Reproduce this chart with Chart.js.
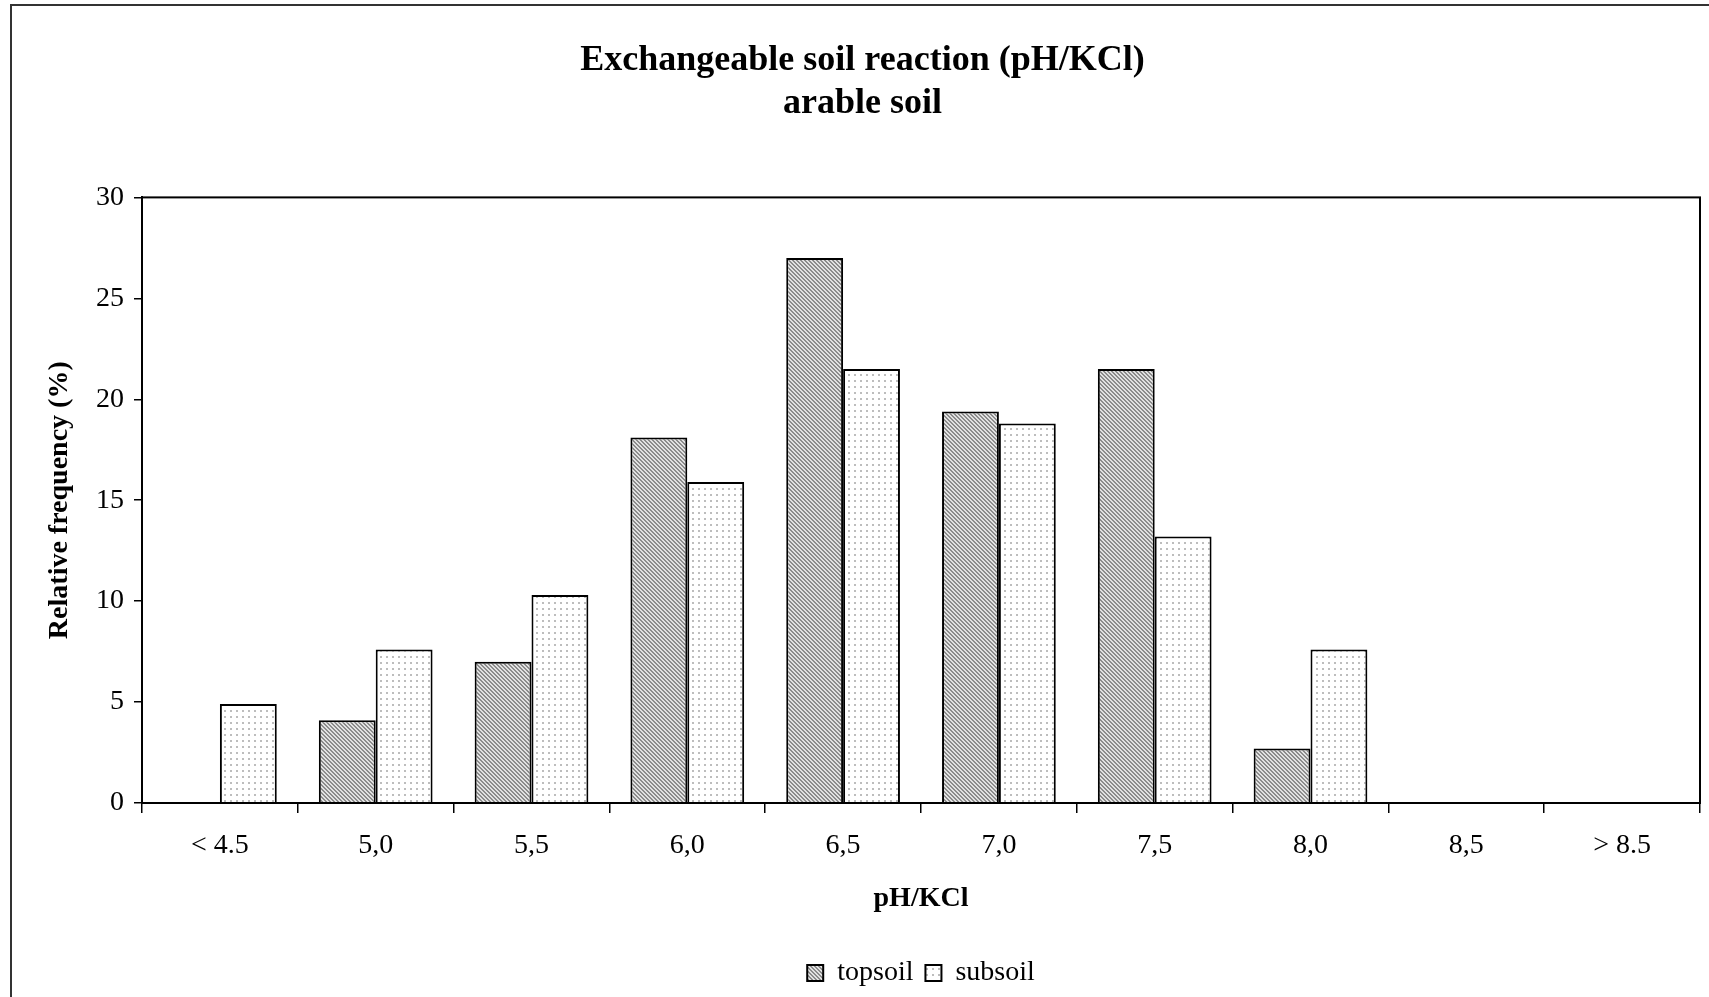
<!DOCTYPE html>
<html>
<head>
<meta charset="utf-8">
<script src="https://cdn.jsdelivr.net/npm/chart.js@4"></script>
<style>
  body { margin: 0; background: #fff; }
  #wrap { position: relative; width: 1709px; height: 997px; overflow: hidden; }
  #frame { position: absolute; left: 10px; top: 4px; width: 1800px; height: 1100px;
           border-left: 2px solid #333; border-top: 2px solid #333; pointer-events: none; }
</style>
</head>
<body>
<div id="wrap">
  <canvas id="grafico" width="1709" height="997"></canvas>
  <div id="frame"></div>
</div>
<script>
const classes = ['< 4.5', '5,0', '5,5', '6,0', '6,5', '7,0', '7,5', '8,0', '8,5', '> 8.5'];
const topsoil = [0, 4.1, 7.0, 18.1, 27.0, 19.4, 21.5, 2.7, 0, 0];
const subsoil = [4.9, 7.6, 10.3, 15.9, 21.5, 18.8, 13.2, 7.6, 0, 0];
const yTicks = [0, 5, 10, 15, 20, 25, 30];

const serif = "'Liberation Serif', 'Times New Roman', serif";

// hachura diagonal pro topsoil
function padraoHachura() {
  const c = document.createElement('canvas');
  c.width = 4; c.height = 4;
  const ctx = c.getContext('2d');
  ctx.fillStyle = '#e2e2e2';
  ctx.fillRect(0, 0, 4, 4);
  ctx.fillStyle = '#8c8c8c';
  for (let y = 0; y < 4; y++) {
    for (let x = 0; x < 4; x++) {
      if (((x - y) % 4 + 4) % 4 < 2) ctx.fillRect(x, y, 1, 1);
    }
  }
  return ctx.createPattern(c, 'repeat');
}

// pontilhado pro subsoil
function padraoPontos() {
  const c = document.createElement('canvas');
  c.width = 6; c.height = 6;
  const ctx = c.getContext('2d');
  ctx.fillStyle = '#ffffff';
  ctx.fillRect(0, 0, 6, 6);
  ctx.fillStyle = '#bdbdbd';
  ctx.fillRect(2, 2, 2, 2);
  return ctx.createPattern(c, 'repeat');
}

// moldura em volta da área do gráfico
const moldura = {
  id: 'moldura',
  afterDatasetsDraw(chart) {
    const {ctx, chartArea} = chart;
    ctx.save();
    ctx.strokeStyle = '#000';
    ctx.lineWidth = 2;
    ctx.strokeRect(chartArea.left, chartArea.top, chartArea.right - chartArea.left, chartArea.bottom - chartArea.top);
    ctx.restore();
  }
};

const grafico = new Chart(document.getElementById('grafico'), {
  type: 'bar',
  data: {
    labels: classes,
    datasets: [{
      label: 'topsoil',
      data: topsoil,
      backgroundColor: padraoHachura(),
      borderColor: '#000',
      borderWidth: 2
    }, {
      label: 'subsoil',
      data: subsoil,
      backgroundColor: padraoPontos(),
      borderColor: '#000',
      borderWidth: 2
    }]
  },
  options: {
    responsive: false,
    animation: false,
    events: [],
    datasets: { bar: { categoryPercentage: 0.73, barPercentage: 1.0 } },
    layout: { padding: { left: 25, right: 9, top: 0, bottom: 0 } },
    plugins: {
      title: {
        display: true,
        text: ['Exchangeable soil reaction (pH/KCl)', 'arable soil'],
        color: '#000',
        font: { family: serif, size: 36, weight: 'bold', lineHeight: 1.2 },
        padding: { top: 39, bottom: 72 }
      },
      legend: {
        position: 'bottom',
        fullSize: false,
        labels: {
          color: '#000',
          font: { family: serif, size: 28 },
          boxWidth: 16,
          boxHeight: 16,
          padding: 12
        }
      },
      tooltip: { enabled: false }
    },
    scales: {
      x: {
        grid: { drawOnChartArea: false, drawTicks: true, tickLength: 10, color: '#000', lineWidth: 1.5 },
        border: { color: '#000', width: 2 },
        ticks: { color: '#000', font: { family: serif, size: 28 }, padding: 16, maxRotation: 0 },
        title: {
          display: true,
          text: 'pH/KCl',
          color: '#000',
          font: { family: serif, size: 28, weight: 'bold', lineHeight: 1.2 },
          padding: { top: 0, bottom: 31 }
        },
        afterFit(scale) { scale.height = 144; }
      },
      y: {
        min: 0,
        max: 30,
        afterBuildTicks(scale) { scale.ticks = yTicks.map(v => ({ value: v })); },
        grid: { drawOnChartArea: false, drawTicks: true, tickLength: 8, color: '#000', lineWidth: 1.5 },
        border: { color: '#000', width: 2 },
        ticks: { color: '#000', font: { family: serif, size: 28 }, padding: 10 },
        title: {
          display: true,
          text: 'Relative frequency (%)',
          color: '#000',
          font: { family: serif, size: 28, weight: 'bold', lineHeight: 1.2 },
          padding: { top: 18, bottom: 0 }
        },
        afterFit(scale) { scale.width = 117; }
      }
    }
  },
  plugins: [moldura]
});
</script>
</body>
</html>
